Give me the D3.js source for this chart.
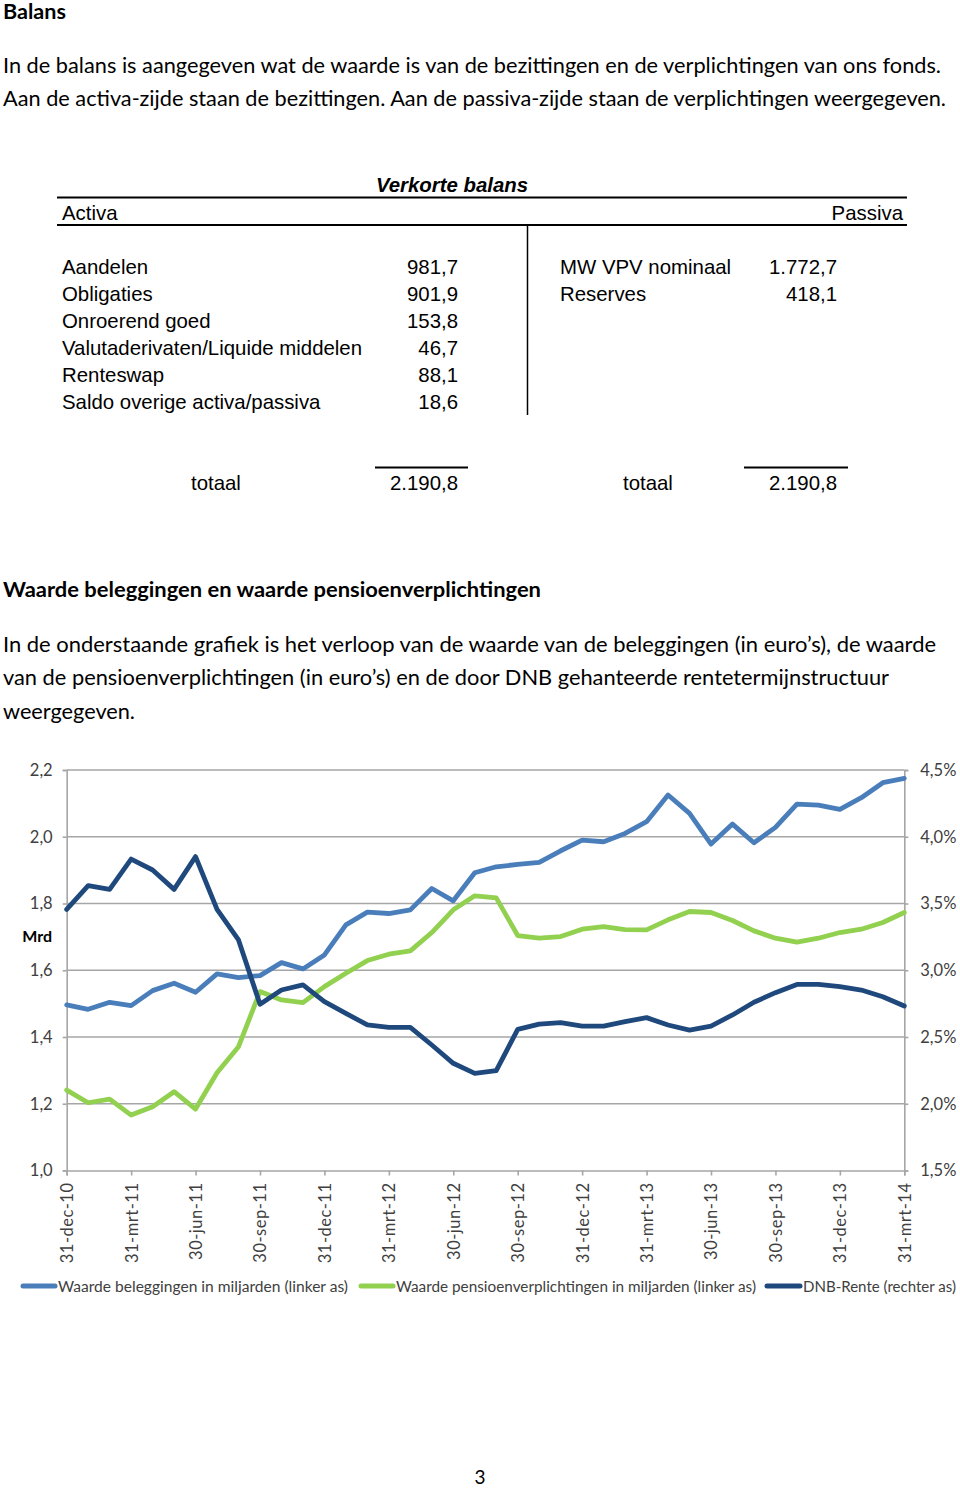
<!DOCTYPE html>
<html>
<head>
<meta charset="utf-8">
<script src="https://cdn.jsdelivr.net/npm/d3@7"></script>
<style>
  html, body { margin: 0; padding: 0; background: #fff; }
  svg { display: block; }
</style>
</head>
<body>
<svg id="page" width="960" height="1489"></svg>
<script>
// ---------- DATA ----------
const pageTitle = "Balans";
const introLines = [
  "In de balans is aangegeven wat de waarde is van de bezittingen en de verplichtingen van ons fonds.",
  "Aan de activa-zijde staan de bezittingen. Aan de passiva-zijde staan de verplichtingen weergegeven."
];
const tableTitle = "Verkorte balans";
const activaLabels = ["Aandelen", "Obligaties", "Onroerend goed", "Valutaderivaten/Liquide middelen", "Renteswap", "Saldo overige activa/passiva"];
const activaValues = ["981,7", "901,9", "153,8", "46,7", "88,1", "18,6"];
const passivaLabels = ["MW VPV nominaal", "Reserves"];
const passivaValues = ["1.772,7", "418,1"];
const totalLabel = "totaal";
const activaTotal = "2.190,8";
const passivaTotal = "2.190,8";

const chartTitle = "Waarde beleggingen en waarde pensioenverplichtingen";
const chartIntro = [
  "In de onderstaande grafiek is het verloop van de waarde van de beleggingen (in euro’s), de waarde",
  "van de pensioenverplichtingen (in euro’s) en de door DNB gehanteerde rentetermijnstructuur",
  "weergegeven."
];

// quarter labels (every third monthly point)
const quarterLabels = ["31-dec-10","31-mrt-11","30-jun-11","30-sep-11","31-dec-11","31-mrt-12","30-jun-12","30-sep-12","31-dec-12","31-mrt-13","30-jun-13","30-sep-13","31-dec-13","31-mrt-14"];
const leftTicks = [1.0, 1.2, 1.4, 1.6, 1.8, 2.0, 2.2];
const rightTicks = [1.5, 2.0, 2.5, 3.0, 3.5, 4.0, 4.5];

// monthly values, dec-10 .. mrt-14 (40 points)
const beleggingen = [1.496,1.483,1.504,1.494,1.539,1.561,1.534,1.589,1.578,1.584,1.623,1.604,1.646,1.736,1.774,1.770,1.781,1.845,1.808,1.892,1.910,1.917,1.923,1.958,1.990,1.985,2.010,2.045,2.125,2.070,1.978,2.038,1.982,2.028,2.098,2.095,2.082,2.117,2.162,2.175];
const pensioen = [1.241,1.203,1.214,1.166,1.191,1.236,1.184,1.293,1.371,1.536,1.511,1.503,1.551,1.591,1.629,1.648,1.658,1.713,1.781,1.823,1.817,1.704,1.696,1.701,1.723,1.731,1.722,1.721,1.751,1.776,1.773,1.749,1.718,1.696,1.684,1.696,1.713,1.723,1.743,1.773];
const dnbRente = [3.456,3.634,3.606,3.833,3.751,3.606,3.851,3.456,3.227,2.745,2.852,2.890,2.765,2.677,2.590,2.572,2.572,2.440,2.303,2.228,2.248,2.557,2.597,2.607,2.582,2.582,2.615,2.645,2.590,2.552,2.582,2.665,2.760,2.832,2.894,2.894,2.877,2.852,2.802,2.732];

const seriesNames = ["Waarde beleggingen in miljarden (linker as)", "Waarde pensioenverplichtingen in miljarden (linker as)", "DNB-Rente (rechter as)"];
const leftAxisTitle = "Mrd";
const pageNumber = "3";

// ---------- STYLE ----------
const bodyFont = "Lato, 'Open Sans', sans-serif";
const tableFont = "'Liberation Sans', Arial, sans-serif";
const colors = ["#4A7EBB", "#92D050", "#1F497D"];
const gridColor = "#a6a6a6";
const labelColor = "#404040";

const svg = d3.select("#page");
svg.append("rect").attr("width", 960).attr("height", 1489).attr("fill", "#fff");

// ---------- PAGE TEXT ----------
svg.append("text").attr("x", 3).attr("y", 19).attr("font-family", bodyFont)
  .attr("font-weight", "bold").attr("font-size", 20).attr("textLength", 63)
  .attr("lengthAdjust", "spacingAndGlyphs").text(pageTitle);

const introW = [938, 943];
introLines.forEach((t, i) => {
  svg.append("text").attr("x", 3).attr("y", 73 + i * 32.5).attr("font-family", bodyFont)
    .attr("font-size", 21).attr("textLength", introW[i]).attr("lengthAdjust", "spacingAndGlyphs").text(t);
});

// ---------- TABLE ----------
const tbl = svg.append("g").attr("font-family", tableFont).attr("font-size", 20.4).attr("fill", "#000");
tbl.append("text").attr("x", 452).attr("y", 192).attr("text-anchor", "middle")
  .attr("font-weight", "bold").attr("font-style", "italic").text(tableTitle);
tbl.append("line").attr("x1", 57).attr("x2", 907).attr("y1", 197.5).attr("y2", 197.5).attr("stroke", "#000").attr("stroke-width", 2);
tbl.append("line").attr("x1", 57).attr("x2", 907).attr("y1", 225).attr("y2", 225).attr("stroke", "#000").attr("stroke-width", 2);
tbl.append("line").attr("x1", 527.5).attr("x2", 527.5).attr("y1", 225).attr("y2", 415).attr("stroke", "#000").attr("stroke-width", 1.5);
tbl.append("text").attr("x", 62).attr("y", 219.5).text("Activa");
tbl.append("text").attr("x", 903).attr("y", 219.5).attr("text-anchor", "end").text("Passiva");

const rowY = d3.scalePoint().domain(d3.range(activaLabels.length)).range([273.5, 408.5]);
activaLabels.forEach((t, i) => {
  tbl.append("text").attr("x", 62).attr("y", rowY(i)).text(t);
  tbl.append("text").attr("x", 458).attr("y", rowY(i)).attr("text-anchor", "end").text(activaValues[i]);
});
passivaLabels.forEach((t, i) => {
  tbl.append("text").attr("x", 560).attr("y", rowY(i)).text(t);
  tbl.append("text").attr("x", 837).attr("y", rowY(i)).attr("text-anchor", "end").text(passivaValues[i]);
});
tbl.append("line").attr("x1", 375).attr("x2", 468).attr("y1", 467.5).attr("y2", 467.5).attr("stroke", "#000").attr("stroke-width", 2);
tbl.append("line").attr("x1", 744).attr("x2", 848).attr("y1", 467.5).attr("y2", 467.5).attr("stroke", "#000").attr("stroke-width", 2);
tbl.append("text").attr("x", 191).attr("y", 489.5).text(totalLabel);
tbl.append("text").attr("x", 458).attr("y", 489.5).attr("text-anchor", "end").text(activaTotal);
tbl.append("text").attr("x", 623).attr("y", 489.5).text(totalLabel);
tbl.append("text").attr("x", 837).attr("y", 489.5).attr("text-anchor", "end").text(passivaTotal);

// ---------- SECTION 2 TEXT ----------
svg.append("text").attr("x", 3).attr("y", 597).attr("font-family", bodyFont)
  .attr("font-weight", "bold").attr("font-size", 20).attr("textLength", 538)
  .attr("lengthAdjust", "spacingAndGlyphs").text(chartTitle);
const chartIntroW = [933, 886, 132];
chartIntro.forEach((t, i) => {
  svg.append("text").attr("x", 3).attr("y", 652 + i * 33.3).attr("font-family", bodyFont)
    .attr("font-size", 21).attr("textLength", chartIntroW[i]).attr("lengthAdjust", "spacingAndGlyphs").text(t);
});

// ---------- CHART ----------
const x0 = 66.7, x1 = 904.3, yTop = 770, yBot = 1170.5;
const n = beleggingen.length;
const x = d3.scaleLinear().domain([0, n - 1]).range([x0, x1]);
const yL = d3.scaleLinear().domain([1.0, 2.2]).range([yBot, yTop]);
const yR = d3.scaleLinear().domain([1.5, 4.5]).range([yBot, yTop]);
const nl = d3.formatLocale({ decimal: ",", thousands: ".", grouping: [3], currency: ["€", ""] });
const f1 = nl.format(".1f");

const chart = svg.append("g");

// gridlines
chart.append("g").selectAll("line").data(leftTicks.filter(v => v > 1.0)).join("line")
  .attr("x1", x0).attr("x2", x1).attr("y1", d => yL(d)).attr("y2", d => yL(d))
  .attr("stroke", gridColor).attr("stroke-width", 1.6);

// left axis
const gL = chart.append("g").attr("transform", `translate(${x0},0)`)
  .call(d3.axisLeft(yL).tickValues(leftTicks).tickSize(4).tickPadding(10).tickFormat(f1));
// right axis
const gR = chart.append("g").attr("transform", `translate(${x1},0)`)
  .call(d3.axisRight(yR).tickValues(rightTicks).tickSize(4).tickPadding(12).tickFormat(d => f1(d) + "%"));
// bottom axis
const qIdx = d3.range(0, n, 3);
const gB = chart.append("g").attr("transform", `translate(0,${yBot})`)
  .call(d3.axisBottom(x).tickValues(qIdx).tickSize(5).tickFormat(i => quarterLabels[i / 3]));

[gL, gR, gB].forEach(g => {
  g.select(".domain").attr("stroke", gridColor).attr("stroke-width", 1.6);
  g.selectAll(".tick line").attr("stroke", gridColor).attr("stroke-width", 1.6);
  g.selectAll("text").attr("fill", labelColor).attr("font-family", bodyFont).attr("font-size", 16.5);
});
gB.selectAll("text")
  .attr("transform", "rotate(-90)")
  .attr("text-anchor", "end")
  .attr("x", -12).attr("y", 0).attr("dy", "0.36em")
  .attr("font-size", 16.5).attr("letter-spacing", 0.5);

// axis title
chart.append("text").attr("x", 52).attr("y", 942).attr("text-anchor", "end")
  .attr("font-family", bodyFont).attr("font-weight", "bold").attr("font-size", 16)
  .attr("fill", "#000").text(leftAxisTitle);

// lines
const lineL = d3.line().x((d, i) => x(i)).y(d => yL(d));
const lineR = d3.line().x((d, i) => x(i)).y(d => yR(d));
const paths = [[beleggingen, lineL], [pensioen, lineL], [dnbRente, lineR]];
paths.forEach(([data, gen], k) => {
  chart.append("path").datum(data).attr("d", gen).attr("fill", "none")
    .attr("stroke", colors[k]).attr("stroke-width", 4.8)
    .attr("stroke-linejoin", "round").attr("stroke-linecap", "round");
});

// legend
const legendItems = [
  { x1: 23, x2: 55, tx: 58, w: 290 },
  { x1: 361, x2: 393, tx: 396, w: 360 },
  { x1: 767, x2: 800, tx: 803, w: 153 }
];
const lg = chart.append("g");
legendItems.forEach((it, k) => {
  lg.append("line").attr("x1", it.x1).attr("x2", it.x2).attr("y1", 1286).attr("y2", 1286)
    .attr("stroke", colors[k]).attr("stroke-width", 5).attr("stroke-linecap", "round");
  lg.append("text").attr("x", it.tx).attr("y", 1291.5).attr("font-family", bodyFont)
    .attr("font-size", 15.5).attr("fill", labelColor).attr("textLength", it.w)
    .attr("lengthAdjust", "spacingAndGlyphs").text(seriesNames[k]);
});

// page number
svg.append("text").attr("x", 480).attr("y", 1484).attr("text-anchor", "middle")
  .attr("font-family", bodyFont).attr("font-size", 19).attr("fill", "#000").text(pageNumber);
</script>
</body>
</html>
